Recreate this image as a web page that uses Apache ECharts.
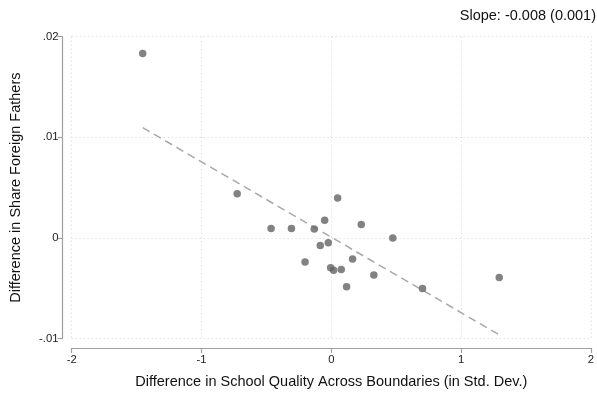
<!DOCTYPE html>
<html>
<head>
<meta charset="utf-8">
<script src="https://cdn.jsdelivr.net/npm/echarts@6/dist/echarts.min.js"></script>
<style>
  html, body { margin: 0; padding: 0; background: #fff; }
  #chart { width: 597px; height: 394px; }
</style>
</head>
<body>
<div id="chart"></div>
<script>
// Boundary-pair differences: school quality (std. dev.) vs. share of foreign fathers
const qualityDiff = [-1.453, -0.725, -0.464, -0.307, 0.049, -0.051, -0.131, 0.231, 0.474, -0.023,
                     -0.085, -0.202, 0.164, -0.005, 0.018, 0.077, 0.328, 0.118, 0.703, 1.294];
const foreignDiff = [0.01834, 0.00439, 0.00095, 0.00095, 0.00396, 0.00175, 0.00089, 0.00135, 0.0, -0.00047,
                     -0.00076, -0.00238, -0.00208, -0.00297, -0.00321, -0.00314, -0.00367, -0.00486, -0.00502, -0.00393];

// Fitted regression line endpoints
const fitX = [-1.453, 1.294];
const fitY = [0.01096, -0.00962];

const slopeLabel = 'Slope: -0.008 (0.001)';
const xTitle = 'Difference in School Quality Across Boundaries (in Std. Dev.)';
const yTitle = 'Difference in Share Foreign Fathers';

const font = '"Liberation Sans", Arial, sans-serif';
const chart = echarts.init(document.getElementById('chart'), null, { renderer: 'canvas' });

const points = qualityDiff.map((x, i) => [x, foreignDiff[i]]);
const fitLine = fitX.map((x, i) => [x, fitY[i]]);

function stataNum(v) {
  if (Math.abs(v) < 1e-12) return '0';
  let s = String(+v.toFixed(4));
  return s.replace(/^(-?)0\./, '$1.');
}

chart.setOption({
  animation: false,
  backgroundColor: '#fff',
  textStyle: { fontFamily: font },
  grid: { left: 71.5, right: 5, top: 36.7, bottom: 54.7, containLabel: false },
  graphic: [{
    type: 'text', right: 1, top: 8,
    style: { text: slopeLabel, font: '14.5px ' + font, fill: '#111' }
  }],
  xAxis: {
    type: 'value', min: -2, max: 2, interval: 1,
    offset: 9.4,
    name: xTitle, nameLocation: 'middle', nameGap: 26,
    nameTextStyle: { fontSize: 14.5, color: '#111', fontFamily: font },
    axisLine: { show: true, onZero: false, lineStyle: { color: '#a0a0a0', width: 1.2 } },
    axisTick: { show: true, length: 5, lineStyle: { color: '#a0a0a0', width: 1.2 } },
    axisLabel: { fontSize: 11.3, color: '#222', margin: 6, fontFamily: font },
    splitLine: { show: true, lineStyle: { color: '#d4d4d4', type: [1, 3], width: 1 } }
  },
  yAxis: {
    type: 'value', min: -0.01, max: 0.02, interval: 0.01,
    offset: 9.2,
    name: yTitle, nameLocation: 'middle', nameGap: 39.5, nameRotate: 90,
    nameTextStyle: { fontSize: 14.5, color: '#111', fontFamily: font },
    axisLine: { show: true, onZero: false, lineStyle: { color: '#a0a0a0', width: 1.2 } },
    axisTick: { show: true, length: 5, lineStyle: { color: '#a0a0a0', width: 1.2 } },
    axisLabel: { fontSize: 11.3, color: '#222', margin: 4, fontFamily: font, formatter: stataNum },
    splitLine: { show: true, lineStyle: { color: '#d4d4d4', type: [1, 3], width: 1 } }
  },
  series: [
    {
      type: 'line', data: fitLine, symbol: 'none', silent: true,
      lineStyle: { color: '#a8a8a8', width: 1.5, type: [8, 5] }, z: 2
    },
    {
      type: 'scatter', data: points, symbol: 'circle', symbolSize: 7.5,
      itemStyle: { color: '#636363' }, z: 3
    }
  ]
});
</script>
</body>
</html>
